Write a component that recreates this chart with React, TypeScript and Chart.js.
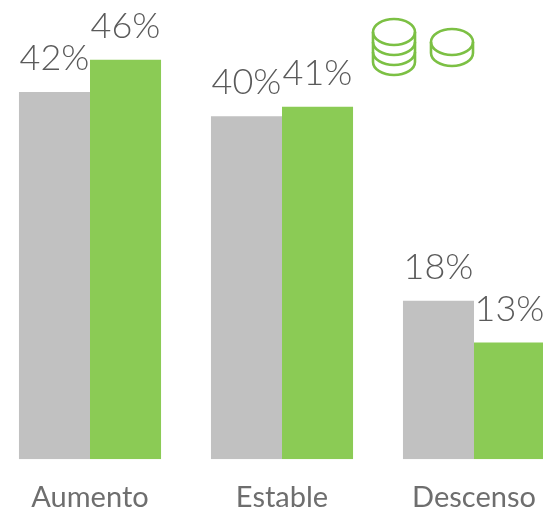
import React, { useEffect, useRef } from "react";
import { Chart, registerables } from "chart.js";

Chart.register(...registerables);

const categories = ["Aumento", "Estable", "Descenso"];
const greyValues = [42.2, 39.4, 18.2];
const greenValues = [45.9, 40.5, 13.4];
const greyLabels = ["42%", "40%", "18%"];
const greenLabels = ["46%", "41%", "13%"];

const GREY = "#C1C1C1";
const GREEN = "#8BCB55";
const TEXT = "#6E6E6E";
const VALUE_TEXT = "#5A5A5A";
const ICON = "#7CC044";

const valueLabels = {
  id: "valueLabels",
  afterDatasetsDraw(chart: any) {
    const { ctx } = chart;
    ctx.save();
    ctx.font = "300 36px Lato";
    ctx.fillStyle = VALUE_TEXT;
    ctx.textAlign = "center";
    ctx.textBaseline = "alphabetic";
    chart.data.datasets.forEach((ds: any, i: number) => {
      chart.getDatasetMeta(i).data.forEach((bar: any, j: number) => {
        ctx.fillText(ds.valueText[j], bar.x, bar.y - 22);
      });
    });
    ctx.restore();
  },
};

export default function App() {
  const ref = useRef<HTMLCanvasElement>(null);

  useEffect(() => {
    const chart = new Chart(ref.current!, {
      type: "bar",
      data: {
        labels: categories,
        datasets: [
          { data: greyValues, backgroundColor: GREY, valueText: greyLabels } as any,
          { data: greenValues, backgroundColor: GREEN, valueText: greenLabels } as any,
        ],
      },
      options: {
        responsive: false,
        animation: false,
        devicePixelRatio: 1,
        layout: { padding: { top: 24, bottom: 8, left: 0, right: 0 } },
        datasets: { bar: { categoryPercentage: 0.74, barPercentage: 1 } },
        plugins: { legend: { display: false }, tooltip: { enabled: false } },
        scales: {
          x: {
            grid: { display: false },
            border: { display: false },
            ticks: {
              color: TEXT,
              font: { family: "Lato", size: 29, weight: "normal" },
              padding: 13,
              maxRotation: 0,
              autoSkip: false,
            },
          },
          y: { display: false, min: 0, max: 50 },
        },
      } as any,
      plugins: [valueLabels],
    });
    return () => chart.destroy();
  }, []);

  return (
    <div
      style={{
        position: "fixed",
        left: 0,
        top: 0,
        width: 543,
        height: 508,
        overflow: "hidden",
        background: "#fff",
      }}
    >
      <canvas
        ref={ref}
        width={576}
        height={536}
        style={{ position: "absolute", left: -6, top: 0 }}
      />
      <svg
        width={543}
        height={508}
        style={{ position: "absolute", left: 0, top: 0 }}
        fill="none"
        stroke={ICON}
        strokeWidth={2.6}
      >
        <ellipse cx={394} cy={32} rx={21} ry={13} />
        <path d="M373 32V62M415 32V62" />
        <path d="M373 42A21 13 0 0 0 415 42" />
        <path d="M373 52A21 13 0 0 0 415 52" />
        <path d="M373 62A21 13 0 0 0 415 62" />
        <ellipse cx={452} cy={42} rx={21} ry={13} />
        <path d="M431 42V53M473 42V53" />
        <path d="M431 53A21 13 0 0 0 473 53" />
      </svg>
    </div>
  );
}
